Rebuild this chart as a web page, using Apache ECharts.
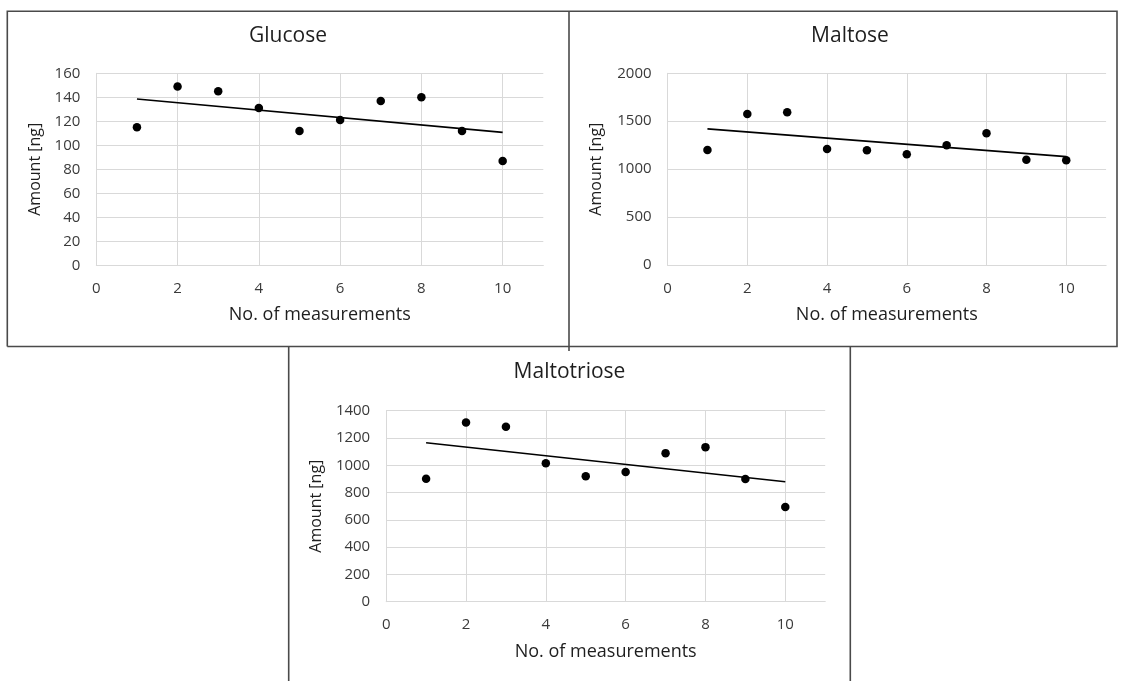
<!DOCTYPE html>
<html>
<head>
<meta charset="utf-8">
<script src="https://cdn.jsdelivr.net/npm/echarts@6/dist/echarts.min.js"></script>
<style>
html,body{margin:0;padding:0;background:#fff;}
#chart{width:1121px;height:681px;}
</style>
</head>
<body>
<div id="chart"></div>
<script>
// ---- data ----
const measurements = [1, 2, 3, 4, 5, 6, 7, 8, 9, 10];
const glucose = [115, 149, 145, 131, 112, 121, 137, 140, 112, 87];
const maltose = [1200, 1576, 1594, 1211, 1197, 1155, 1249, 1374, 1099, 1093];
const maltotriose = [901, 1314, 1282, 1014, 919, 950, 1089, 1133, 899, 694];
// linear trend lines (end points read at x = 1 and x = 10)
const trendX = [1, 10];
const glucoseTrend = [138.6, 110.8];
const maltoseTrend = [1420, 1131];
const maltotrioseTrend = [1165, 879];
// axes
const xTicks = [0, 2, 4, 6, 8, 10];
const xMax = 11;
const glucoseTicks = [0, 20, 40, 60, 80, 100, 120, 140, 160];
const maltoseTicks = [0, 500, 1000, 1500, 2000];
const maltotrioseTicks = [0, 200, 400, 600, 800, 1000, 1200, 1400];
const titles = ['Glucose', 'Maltose', 'Maltotriose'];
const xName = 'No. of measurements';
const yName = 'Amount [ng]';

const FONT = 'Open Sans';
const chart = echarts.init(document.getElementById('chart'), null, {renderer: 'canvas'});

const grids = [
  {left: 96.3, top: 73.3, width: 447, height: 192},
  {left: 667.6, top: 73.3, width: 438.5, height: 191.7},
  {left: 386.2, top: 410.7, width: 439, height: 191}
];
const yTickSets = [glucoseTicks, maltoseTicks, maltotrioseTicks];
const yNameGaps = [53, 63, 62];
const seriesData = [glucose, maltose, maltotriose];
const trends = [glucoseTrend, maltoseTrend, maltotrioseTrend];
const titlePos = [{x: 288, y: 26}, {x: 850, y: 26}, {x: 569.5, y: 362}];

const gridColor = '#d9d9d9';
const plain = v => String(v);

const option = {
  backgroundColor: '#ffffff',
  animation: false,
  title: titles.map((t, i) => ({
    text: t,
    left: titlePos[i].x,
    top: titlePos[i].y,
    textAlign: 'center',
    padding: 0,
    textStyle: {fontFamily: FONT, fontSize: 21, fontWeight: 'normal', color: '#1e1e1e'}
  })),
  grid: grids.map(g => Object.assign({containLabel: false}, g)),
  xAxis: grids.map((g, i) => ({
    type: 'value',
    gridIndex: i,
    min: xTicks[0],
    max: xMax,
    interval: xTicks[1] - xTicks[0],
    name: xName,
    nameLocation: 'middle',
    nameGap: 41,
    nameTextStyle: {fontFamily: FONT, fontSize: 18, color: '#1e1e1e'},
    axisLine: {show: true, lineStyle: {color: gridColor, width: 1}},
    axisTick: {show: false},
    axisLabel: {fontFamily: FONT, fontSize: 15, color: '#3a3a3a', margin: 16, showMaxLabel: false, formatter: plain},
    splitLine: {show: true, showMaxLine: false, lineStyle: {color: gridColor, width: 1}}
  })),
  yAxis: grids.map((g, i) => {
    const t = yTickSets[i];
    return {
      type: 'value',
      gridIndex: i,
      min: t[0],
      max: t[t.length - 1],
      interval: t[1] - t[0],
      name: yName,
      nameLocation: 'middle',
      nameGap: yNameGaps[i],
      nameTextStyle: {fontFamily: FONT, fontSize: 16, color: '#1e1e1e'},
      axisLine: {show: true, lineStyle: {color: gridColor, width: 1}},
      axisTick: {show: false},
      axisLabel: {fontFamily: FONT, fontSize: 15, color: '#3a3a3a', margin: 16, formatter: plain},
      splitLine: {show: true, lineStyle: {color: gridColor, width: 1}}
    };
  }),
  series: []
};

seriesData.forEach((vals, i) => {
  option.series.push({
    type: 'line',
    xAxisIndex: i, yAxisIndex: i,
    data: trendX.map((x, k) => [x, trends[i][k]]),
    symbol: 'none',
    lineStyle: {color: '#000000', width: 1.6},
    z: 2
  });
  option.series.push({
    type: 'scatter',
    xAxisIndex: i, yAxisIndex: i,
    data: measurements.map((x, k) => [x, vals[k]]),
    symbol: 'circle',
    symbolSize: 8.5,
    itemStyle: {color: '#000000', opacity: 1},
    z: 3
  });
});

// panel frames
const frameStyle = {stroke: '#4a4a4a', lineWidth: 1.6};
option.graphic = [
  {type: 'polyline', shape: {points: [[7.3, 346.5], [7.3, 11.3], [1117, 11.3], [1117, 346.5], [7.3, 346.5]]}, style: frameStyle, silent: true},
  {type: 'line', shape: {x1: 569, y1: 11.3, x2: 569, y2: 351}, style: frameStyle, silent: true},
  {type: 'line', shape: {x1: 288.7, y1: 346.5, x2: 288.7, y2: 681}, style: frameStyle, silent: true},
  {type: 'line', shape: {x1: 850.3, y1: 346.5, x2: 850.3, y2: 681}, style: frameStyle, silent: true}
];

chart.setOption(option);
</script>
</body>
</html>
